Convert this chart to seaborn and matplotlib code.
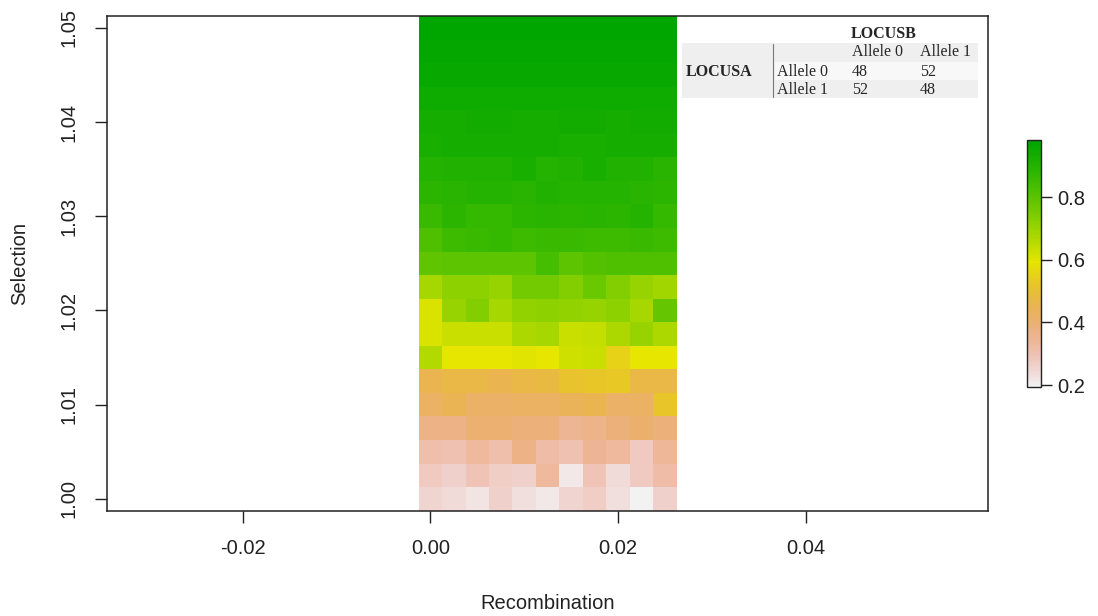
import colorsys
import numpy as np
import pandas as pd
import seaborn as sns
import matplotlib.pyplot as plt
from matplotlib.colors import ListedColormap
from matplotlib.patches import Rectangle
from matplotlib.ticker import FormatStrFormatter

# grid of the simulation
recombination = [0.0, 0.0025, 0.005, 0.0075, 0.01, 0.0125, 0.015, 0.0175, 0.02, 0.0225, 0.025]
selection = [1.0, 1.0025, 1.005, 1.0075, 1.01, 1.0125, 1.015, 1.0175, 1.02, 1.0225, 1.025,
             1.0275, 1.03, 1.0325, 1.035, 1.0375, 1.04, 1.0425, 1.045, 1.0475, 1.05]

# one row per selection value (bottom to top), one column per recombination value
allele_freq = [
    [0.25, 0.24, 0.22, 0.26, 0.23, 0.21, 0.25, 0.27, 0.23, 0.20, 0.26],
    [0.28, 0.26, 0.29, 0.27, 0.26, 0.33, 0.21, 0.29, 0.24, 0.28, 0.32],
    [0.31, 0.30, 0.33, 0.31, 0.37, 0.32, 0.30, 0.35, 0.33, 0.28, 0.34],
    [0.37, 0.37, 0.40, 0.40, 0.39, 0.39, 0.35, 0.36, 0.39, 0.41, 0.39],
    [0.43, 0.45, 0.42, 0.42, 0.43, 0.43, 0.44, 0.46, 0.42, 0.43, 0.52],
    [0.46, 0.47, 0.47, 0.46, 0.47, 0.48, 0.51, 0.52, 0.53, 0.47, 0.47],
    [0.66, 0.59, 0.59, 0.59, 0.60, 0.59, 0.62, 0.63, 0.55, 0.59, 0.59],
    [0.61, 0.63, 0.63, 0.63, 0.67, 0.68, 0.63, 0.64, 0.67, 0.70, 0.67],
    [0.61, 0.70, 0.73, 0.68, 0.71, 0.72, 0.71, 0.70, 0.72, 0.68, 0.78],
    [0.68, 0.72, 0.72, 0.70, 0.76, 0.76, 0.73, 0.77, 0.73, 0.70, 0.69],
    [0.79, 0.80, 0.80, 0.80, 0.80, 0.84, 0.80, 0.81, 0.82, 0.82, 0.82],
    [0.82, 0.85, 0.86, 0.87, 0.85, 0.86, 0.86, 0.85, 0.85, 0.86, 0.85],
    [0.86, 0.88, 0.87, 0.87, 0.88, 0.89, 0.88, 0.89, 0.88, 0.90, 0.87],
    [0.88, 0.89, 0.90, 0.90, 0.89, 0.91, 0.90, 0.90, 0.90, 0.89, 0.88],
    [0.90, 0.91, 0.91, 0.91, 0.92, 0.90, 0.91, 0.92, 0.91, 0.91, 0.89],
    [0.92, 0.93, 0.93, 0.93, 0.93, 0.93, 0.92, 0.92, 0.93, 0.93, 0.93],
    [0.93, 0.93, 0.94, 0.94, 0.93, 0.93, 0.94, 0.94, 0.93, 0.94, 0.94],
    [0.95, 0.95, 0.95, 0.95, 0.95, 0.95, 0.95, 0.95, 0.95, 0.95, 0.95],
    [0.96, 0.96, 0.96, 0.96, 0.96, 0.96, 0.96, 0.96, 0.96, 0.96, 0.96],
    [0.97, 0.97, 0.97, 0.97, 0.97, 0.97, 0.97, 0.97, 0.97, 0.97, 0.97],
    [0.98, 0.98, 0.98, 0.98, 0.98, 0.98, 0.98, 0.98, 0.98, 0.98, 0.98],
]

# starting genotype table
locus_b_labels = ["Allele 0", "Allele 1"]
locus_a_labels = ["Allele 0", "Allele 1"]
counts = [[48, 52], [52, 48]]

x_ticks = [-0.02, 0.0, 0.02, 0.04]
y_ticks = [1.00, 1.01, 1.02, 1.03, 1.04, 1.05]
cbar_ticks = [0.2, 0.4, 0.6, 0.8]


def terrain_colors(n):
    """R's terrain.colors()"""
    k = n // 2
    h = [4 / 12, 2 / 12, 0.0]
    s = [1.0, 1.0, 0.0]
    v = [0.65, 0.9, 0.95]
    cols = [colorsys.hsv_to_rgb(a, b, c) for a, b, c in zip(
        np.linspace(h[0], h[1], k), np.linspace(s[0], s[1], k), np.linspace(v[0], v[1], k))]
    m = n - k + 1
    second = [colorsys.hsv_to_rgb(a, b, c) for a, b, c in zip(
        np.linspace(h[1], h[2], m), np.linspace(s[1], s[2], m), np.linspace(v[1], v[2], m))]
    return cols + second[1:]


sns.set_style("ticks")
plt.rcParams["font.family"] = ["Liberation Sans", "DejaVu Sans"]

cmap = ListedColormap(terrain_colors(100)[::-1])

fig = plt.figure(figsize=(10.98, 6.16), dpi=100)
ax = fig.add_axes([0.0972, 0.1709, 0.8023, 0.8031])
cax = fig.add_axes([0.9353, 0.3718, 0.0128, 0.401])

dx = recombination[1] - recombination[0]
dy = selection[1] - selection[0]
ax.set_xlim(-0.0345, 0.0594)
ax.set_ylim(selection[0] - dy / 2, selection[-1] + dy / 2)

df = pd.DataFrame(allele_freq, index=selection, columns=recombination).iloc[::-1]

hax = ax.inset_axes(
    [recombination[0] - dx / 2, selection[0] - dy / 2,
     len(recombination) * dx, len(selection) * dy],
    transform=ax.transData,
)
hax.set_zorder(1)
sns.heatmap(
    df,
    ax=hax,
    cmap=cmap,
    vmin=0.194,
    vmax=0.982,
    cbar_ax=cax,
    xticklabels=False,
    yticklabels=False,
)
hax.set_axis_off()

# axes in R style
for sp in ax.spines.values():
    sp.set_visible(True)
    sp.set_color("#222222")
    sp.set_linewidth(1.1)
ax.set_xticks(x_ticks)
ax.set_yticks(y_ticks)
ax.xaxis.set_major_formatter(FormatStrFormatter("%.2f"))
ax.yaxis.set_major_formatter(FormatStrFormatter("%.2f"))
ax.tick_params(direction="out", length=8.5, width=1, labelsize=14.5, colors="#222222")
ax.tick_params(axis="x", pad=12)
ax.tick_params(axis="y", pad=12)
for lab in ax.get_yticklabels():
    lab.set_rotation(90)
    lab.set_va("center")
ax.set_xlabel("Recombination", fontsize=14.5, labelpad=26, color="#222222")
ax.set_ylabel("Selection", fontsize=14.5, labelpad=22, color="#222222")

# colour key
cbar = hax.collections[0].colorbar
cbar.set_ticks(cbar_ticks)
cbar.ax.set_yticklabels([f"{t:.1f}" for t in cbar_ticks])
cbar.outline.set_edgecolor("#222222")
cbar.outline.set_linewidth(1)
cax.tick_params(direction="out", length=8, width=1, labelsize=14.5, pad=4, colors="#222222")


# genotype table in the top right corner
def px(x, y):
    return x / 1098, 1 - y / 616


W, H = 1098, 616
fig.patches.append(Rectangle(px(682, 98), 296 / W, 55 / H, transform=fig.transFigure,
                             facecolor="#EFEFEF", edgecolor="none", zorder=3))
fig.patches.append(Rectangle(px(775, 80), 203 / W, 18 / H, transform=fig.transFigure,
                             facecolor="#F8F8F8", edgecolor="none", zorder=3))
fig.lines.append(plt.Line2D([773 / W, 773 / W], [1 - 44 / H, 1 - 97 / H], transform=fig.transFigure,
                            color="#777777", lw=0.8, zorder=4))

serif = ["Liberation Serif", "DejaVu Serif"]
fs = 11.5
fig.text(*px(884, 34), "LOCUSB", family=serif, weight="bold", fontsize=fs,
         ha="center", va="center", zorder=5)
fig.text(*px(686, 72), "LOCUSA", family=serif, weight="bold", fontsize=fs,
         ha="left", va="center", zorder=5)
col_x = [852, 920]
row_y = [72, 90]
for cx_, lab in zip(col_x, locus_b_labels):
    fig.text(*px(cx_, 52), lab, family=serif, fontsize=fs, ha="left", va="center", zorder=5)
for ry, lab, row in zip(row_y, locus_a_labels, counts):
    fig.text(*px(777, ry), lab, family=serif, fontsize=fs, ha="left", va="center", zorder=5)
    for cx_, val in zip(col_x, row):
        fig.text(*px(cx_, ry), str(val), family=serif, fontsize=fs, ha="left", va="center", zorder=5)

plt.savefig("out.png", dpi=100)
